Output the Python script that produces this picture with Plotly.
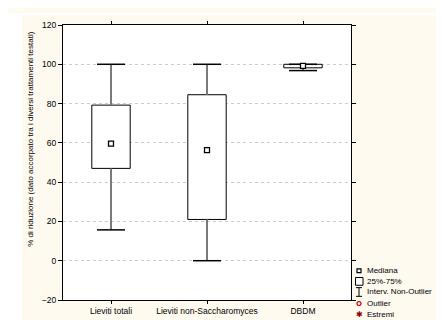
import plotly.graph_objects as go

# ---- data ----
categories = ["Lieviti totali", "Lieviti non-Saccharomyces", "DBDM"]
medians = [59.6, 56.3, 99.2]
q1 = [47.0, 21.0, 98.2]
q3 = [79.2, 84.5, 100.0]
lower_whisker = [15.7, 0.0, 96.8]
upper_whisker = [100.0, 100.0, 100.0]
y_ticks = [-20, 0, 20, 40, 60, 80, 100, 120]
y_title = "% di riduzione (dato accorpato tra i diversi trattamenti testati)"
legend_labels = ["Mediana", "25%-75%", "Interv. Non-Outlier", "Outlier", "Estremi"]

FONT = "Liberation Sans, Arial, sans-serif"
CREAM = "#FFFAF0"
W, H = 444, 320
ML, MR, MT, MB = 55, 101, 12, 23
PW, PH = W - ML - MR, H - MT - MB


def px(x):
    return (x - ML) / PW


def py(y):
    return (H - MB - y) / PH


fig = go.Figure()

# boxes (25%-75%)
fig.add_trace(go.Bar(
    x=categories,
    y=[b - a for a, b in zip(q1, q3)],
    base=q1,
    width=0.4,
    marker=dict(color="white", line=dict(color="black", width=1)),
    showlegend=False,
    hoverinfo="skip",
))

# upper whisker stems
fig.add_trace(go.Scatter(
    x=categories, y=q3, mode="markers",
    marker=dict(size=0.1, opacity=0),
    error_y=dict(type="data", symmetric=False,
                 array=[u - b for u, b in zip(upper_whisker, q3)],
                 arrayminus=[0, 0, 0], width=0, thickness=2, color="#7a7a7a"),
    showlegend=False, hoverinfo="skip",
))
# lower whisker stems
fig.add_trace(go.Scatter(
    x=categories, y=q1, mode="markers",
    marker=dict(size=0.1, opacity=0),
    error_y=dict(type="data", symmetric=False,
                 array=[0, 0, 0],
                 arrayminus=[a - l for a, l in zip(q1, lower_whisker)],
                 width=0, thickness=2, color="#7a7a7a"),
    showlegend=False, hoverinfo="skip",
))
# whisker caps
fig.add_trace(go.Scatter(
    x=categories + categories, y=upper_whisker + lower_whisker, mode="markers",
    marker=dict(symbol="line-ew", size=20, line=dict(color="black", width=1.5)),
    showlegend=False, hoverinfo="skip",
))
# medians
fig.add_trace(go.Scatter(
    x=categories, y=medians, mode="markers",
    marker=dict(symbol="square", size=5, color="white",
                line=dict(color="black", width=1.3)),
    showlegend=False, hoverinfo="skip",
))

shapes = []
# white strips outside the cream panel
shapes.append(dict(type="rect", xref="paper", yref="paper", layer="below",
                   x0=px(0), x1=px(14), y0=py(320), y1=py(0),
                   fillcolor="white", line=dict(width=0)))
shapes.append(dict(type="rect", xref="paper", yref="paper", layer="below",
                   x0=px(0), x1=px(444), y0=py(2), y1=py(0),
                   fillcolor="white", line=dict(width=0)))

# custom legend symbols
lx = 351
ys = [266.7, 277.7, 288.7, 300.7, 311.7]
shapes.append(dict(type="rect", xref="paper", yref="paper",
                   x0=px(lx - 2), x1=px(lx + 2), y0=py(ys[0] + 2), y1=py(ys[0] - 2),
                   line=dict(color="black", width=1.2), fillcolor="white"))
shapes.append(dict(type="rect", xref="paper", yref="paper",
                   x0=px(lx - 3.5), x1=px(lx + 4), y0=py(ys[1] + 4), y1=py(ys[1] - 4),
                   line=dict(color="black", width=1), fillcolor="white"))
shapes.append(dict(type="line", xref="paper", yref="paper",
                   x0=px(lx), x1=px(lx), y0=py(ys[2] + 4.5), y1=py(ys[2] - 4.5),
                   line=dict(color="black", width=1)))
for dy in (-4.5, 4.5):
    shapes.append(dict(type="line", xref="paper", yref="paper",
                       x0=px(lx - 3), x1=px(lx + 3), y0=py(ys[2] + dy), y1=py(ys[2] + dy),
                       line=dict(color="black", width=1)))
shapes.append(dict(type="circle", xref="paper", yref="paper",
                   x0=px(lx - 2), x1=px(lx + 2), y0=py(ys[3] + 2), y1=py(ys[3] - 2),
                   line=dict(color="#d00000", width=1.2)))

annotations = []
for lab, yy in zip(legend_labels, ys):
    annotations.append(dict(text=lab, xref="paper", yref="paper",
                            x=px(357), y=py(yy), xanchor="left", yanchor="middle",
                            showarrow=False, font=dict(family=FONT, size=8, color="black")))
annotations.append(dict(text="✱", xref="paper", yref="paper",
                        x=px(lx), y=py(ys[4]), xanchor="center", yanchor="middle",
                        showarrow=False, font=dict(family="DejaVu Sans", size=8, color="#8b0000")))
annotations.append(dict(text=y_title, xref="paper", yref="paper",
                        x=px(23), y=py(130), xanchor="center", yanchor="middle",
                        textangle=-90, showarrow=False,
                        font=dict(family=FONT, size=8, color="black")))

fig.update_layout(
    width=W, height=H,
    margin=dict(l=ML, r=MR, t=MT, b=MB),
    paper_bgcolor=CREAM, plot_bgcolor="white",
    font=dict(family=FONT, size=8.5, color="black"),
    shapes=shapes, annotations=annotations,
    showlegend=False,
)
fig.update_xaxes(
    type="category", range=[-0.5, 2.5],
    showline=True, linecolor="black", linewidth=1, mirror="allticks",
    ticks="outside", ticklen=3, tickcolor="black",
    showgrid=False, tickfont=dict(size=8.5),
)
fig.update_yaxes(
    range=[-20, 120], tickvals=y_ticks,
    showline=True, linecolor="black", linewidth=1, mirror="allticks",
    ticks="outside", ticklen=4, tickcolor="black",
    showgrid=True, gridcolor="#cccccc", griddash="dot", gridwidth=1,
    zeroline=False, tickfont=dict(size=8.5),
)

fig.write_html("out.html")
